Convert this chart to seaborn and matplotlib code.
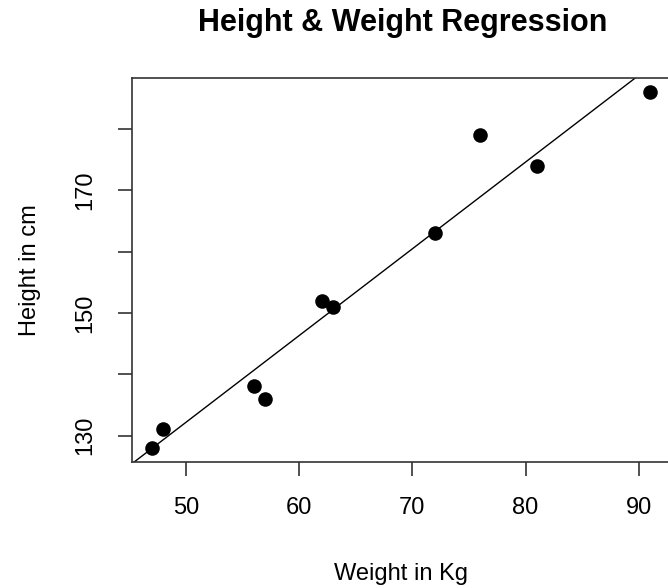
import matplotlib
matplotlib.use("Agg")
import matplotlib.pyplot as plt
import numpy as np
import pandas as pd
import seaborn as sns

# heights (cm) and weights (kg)
height = [151, 174, 138, 186, 128, 136, 179, 163, 152, 131]
weight = [63, 81, 56, 91, 47, 57, 76, 72, 62, 48]

xticks = [50, 60, 70, 80, 90]
yticks = [130, 140, 150, 160, 170, 180]
ytick_labels = ["130", "", "150", "", "170", ""]

df = pd.DataFrame({"weight": weight, "height": height})

sns.set_style("ticks")
plt.rcParams["font.family"] = ["Liberation Sans", "DejaVu Sans"]
plt.rcParams["text.color"] = "black"
plt.rcParams["axes.labelcolor"] = "black"
plt.rcParams["xtick.labelcolor"] = "black"
plt.rcParams["ytick.labelcolor"] = "black"

fig = plt.figure(figsize=(6.68, 5.88), dpi=100)
ax = fig.add_axes([132 / 668, 1 - 462 / 588, 538 / 668, 384 / 588])

ax.set_xlim(45.24, 92.76)
ax.set_ylim(125.68, 188.32)

sns.regplot(data=df, x="weight", y="height", ax=ax, ci=None, truncate=False,
            scatter_kws={"s": 110, "color": "black", "linewidths": 0, "alpha": 1},
            line_kws={"color": "black", "lw": 1.0})

ax.set_xlim(45.24, 92.76)
ax.set_ylim(125.68, 188.32)

ax.set_xticks(xticks)
ax.set_xticklabels([str(t) for t in xticks])
ax.set_yticks(yticks)
ax.set_yticklabels(ytick_labels, rotation=90, va="center")

ax.tick_params(axis="both", length=10, width=1.2, color="#333333", labelsize=17,
               labelcolor="black")
ax.tick_params(axis="x", pad=15)
ax.tick_params(axis="y", pad=16)
for s in ax.spines.values():
    s.set_color("#333333")
    s.set_linewidth(1.2)

ax.set_xlabel("Weight in Kg", fontsize=17)
ax.set_ylabel("Height in cm", fontsize=17)
ax.xaxis.set_label_coords(0.5, -0.263)
ax.yaxis.set_label_coords(-0.17, 0.5)

fig.text(403 / 668, 1 - 23 / 588, "Height & Weight Regression", ha="center",
         va="center", fontsize=22, fontweight="bold", color="black")

fig.savefig("out.png", dpi=100)
